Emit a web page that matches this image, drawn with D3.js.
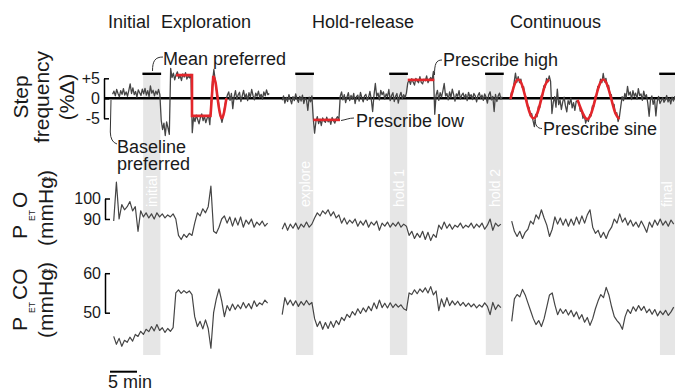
<!DOCTYPE html>
<html>
<head>
<meta charset="utf-8">
<script src="https://cdnjs.cloudflare.com/ajax/libs/d3/7.8.5/d3.min.js"></script>
<style>
  body { margin: 0; background: #fff; }
  svg { display: block; font-family: "Liberation Sans", Arial, Helvetica, sans-serif; }
</style>
</head>
<body>
<svg id="fig" width="675" height="391"></svg>
<script>
// ---- data (time in minutes, step frequency in %, gases in mmHg) ----
var phases = ["Initial", "Exploration", "Hold-release", "Continuous"];
var bandNames = ["initial", "explore", "hold 1", "hold 2", "final"];
var bandStarts = [5.95, 34.25, 51.65, 69.4, 101.65];
var bandLen = 3.2;

var sfTicks = [5, 0, -5], sfTickLabels = ["+5", "0", "-5"];
var o2Ticks = [100, 90], co2Ticks = [60, 50];

// step frequency, sampled every 0.25 min
var sfStep = 0.25;
var sfStarts = [0.3, 31.7, 73.9];
var sf1 = [1.0, 1.8, 0.6, 2.2, 1.2, 0.4, 1.9, 1.0, 2.4, 0.8, 1.6, 0.5, 2.0, 3.6, 1.2, 2.6, 0.9, 1.7, 0.3, 2.1, 1.4, 0.7, 2.3,
  1.1, 2.5, 0.8, 1.9, 0.4, 3.1, 1.3, 2.0, 0.6, 1.8, 1.0, 2.2, 0.9,
  -5.5, -7.8, -6.2, -9.3, -5.9, -7.4, -9.0,
  7.5, 5.2, 6.3, 4.6, 5.9, 6.6, 5.0, 5.7, 4.4, 6.1, 5.3, 6.4, 4.8, 5.6, 5.1, 6.0,
  -8.6, -4.6, -5.8, -4.2, -5.3, -6.4, -4.8, -3.9, -5.6, -4.5, -6.1, -5.0, -4.3, -6.6,
  -1.0, 4.2, 7.2, 4.5, 1.8, 0.2, -2.8, -4.6, -6.0, -4.4, -2.2, -0.4,
  0.8, 1.6, -0.5, 1.2, -2.6, 0.4, 1.9, -0.3, 0.9, 1.5, -0.8, 0.6, 2.0, 0.1, 1.1, -0.6, 1.4, 0.3, 2.2, 0.7, -0.4, 1.3, 0.5, 1.8, 0.2, 1.0, -0.2, 1.6, 0.6, 2.1, 0.9, 1.2];
var sf2 = [-0.5, 0.6, -1.2, 0.2, -0.8, 0.9, -0.3, -1.4, 0.4, -0.6, 1.1, -0.2, -1.0, 0.5, -0.7, 0.8, -1.3, 0.1, -0.4, -3.0, 0.3, -0.9, 0.6,
  -5.0, -8.7, -5.8, -4.6, -6.3, -5.2, -6.8, -4.9, -5.7, -6.0, -4.7, -5.9, -5.3, -6.5, -4.8, -5.6, -6.2, -5.1, -4.6, -5.4,
  0.5, 1.6, -0.4, 0.9, -1.1, 0.3, 1.4, -0.6, 0.7, -0.2, 1.2, -1.3, 0.4, 0.8, -0.7, 1.5, 0.1, -0.9, 0.6, 1.0,
  -0.5, 0.3, 1.7, -0.3, -3.3, 0.8, 3.7, 0.5, 1.3, -0.4, 2.0, 0.9, 1.6, -0.2, 1.1, 0.4, 2.2, -0.6, 0.7, 1.4,
  -0.8, 0.5, 1.2, -1.2, 0.6, 1.5, -0.1, 0.9, 0.2, 1.3,
  3.8, 4.6, 3.5, 4.9, 4.1, 3.3, 5.0, 4.3, 3.9, 5.4, 4.0, 3.6, 4.8, 4.4, 5.6, 3.9, 4.7, 5.2, 4.5, 6.7,
  -4.0,
  0.8, 2.0, -0.5, 1.4, 0.3, 1.8, 3.7, 0.6, 1.2, -0.4, 1.6, 0.2, 2.3, 0.9, -0.7, 1.1, 0.5, 1.9, -0.2, 0.8,
  1.3, 0.1, 1.0, -0.6, 1.5, 0.4, 0.9, -0.3, 1.2, 0.6, -0.9, 0.7, 1.4, 0.0, 0.8, -0.5, 1.1, 0.3, -1.2, 0.9,
  1.6, -0.4, 0.5, -3.3, 1.0, -0.8, 0.6, 1.3, -0.2, 0.4];
var sf3 = [-0.3, 1.5, 1.6, 4.0, 6.3, 4.0, 5.4, 3.9, 4.8, 2.7, 2.9, 0.4, 0.3, -2.3, -2.2, -4.4, -3.8, -5.6, -7.1, -4.0, -4.6, -2.0, -2.3, 0.6, 0.6, 3.1, 2.8, 5.0, 4.1, 5.6, 4.2,
  -3.8, -1.0, 0.4, -2.2, 2.3, -1.6, -0.4, -2.8, -0.9, 0.3, -1.9, -3.4, -0.6, -1.5, 0.1, -2.4, -1.1, -3.0, -0.7,
  -0.8, -1.1, -3.2, -3.0, -5.0, -4.3, -6.2, -5.0, -5.8, -4.1, -4.4, -1.9, -2.0, 0.5, 0.6, 3.0, 2.8, 4.8, 3.9, 6.2, 4.1, 5.0, 2.9, 3.2, 0.8, 0.9, -1.6, -1.5, -3.9, -3.6, -5.8, -4.6,
  -2.0, 0.4, -0.6, 1.2, 0.1, 3.0, 0.8, 1.6, -0.3, 1.9, 0.5, 1.3, -0.2, 2.4, 0.7, 1.1, -0.5, 1.8, 0.3, 0.9,
  -1.2, -4.5, -0.4, 0.6, -1.5, -0.2, -4.4, -0.8, 0.5, -1.3, -0.6, 0.2, -1.0, -0.4, 0.7, -0.9, 0.0, -1.4, 0.3, -0.7, 0.5];

// prescribed step frequency (red), [min, %]
var presSteps = [[12.04, 5.8], [15.0, 5.8], [15.0, -4.4], [18.43, -4.4], [18.94, 5.6]];
var presSineA = [[18.94, 5.6], [19.35, 4.0], [19.74, 0], [20.13, -3.5], [20.52, -5.0], [20.94, -3.5], [21.37, 0]];
var presLow = [[37.46, -5.4], [42.41, -5.4]];
var presHigh = [[54.94, 4.6], [59.87, 4.6]];
var presSineB = [[73.98, -0.2], [74.69, 3.3], [75.41, 4.7], [76.12, 3.3], [76.83, -0.2], [77.54, -3.6], [78.26, -5.0], [78.97, -3.6], [79.68, -0.2], [80.39, 3.3], [81.11, 4.7]];
var presSineC = [[86.4, -0.4], [87.35, -3.7], [88.2, -5.2], [88.94, -3.7], [89.68, -0.2], [90.42, 3.3], [91.16, 4.7], [91.9, 3.3], [92.65, -0.2], [93.39, -3.7], [94.13, -5.2]];

// end-tidal gases, sampled every 0.5 min
var gasStep = 0.5;
var gasStarts = [0.5, 31.7, 74.2];
var o2a = [89, 108, 90, 97, 94.5, 96, 98.5, 94, 96, 84, 94, 91, 93, 90.5, 92.5, 90, 93, 91, 92.5, 90.5, 92, 91, 92.5, 90,
  82, 80, 82.5, 81, 83, 82, 88, 93, 91.5, 95, 93, 96, 106, 84, 83, 86, 90, 91.5, 88, 91, 86.5, 90.5, 87, 91, 86, 89.5,
  87.5, 90, 86, 88.5, 87, 89, 86.5, 88];
var o2b = [85, 88, 84.5, 87.5, 85.5, 88, 85, 87.5, 86, 88.5, 86, 87.5, 90.5, 93, 91.5, 94, 92.5, 94.5, 91.5, 93.5, 90.5, 92,
  88, 90.5, 87.5, 89.5, 88, 90, 86.5, 89, 87, 89.5, 86, 88.5, 87, 89, 84.5, 88, 86.5, 88.5, 86, 88, 86.5, 88.5, 86, 87.5,
  86.5, 82, 84, 80.5, 83, 81, 84, 80, 83.5, 79.5, 82.5, 81, 87, 85, 88.5, 85.5, 87.5, 85, 87, 86, 88, 85.5, 87, 86, 88,
  85.5, 87.5, 86, 88, 85, 87, 90, 84.5, 88, 86.5, 87.5];
var o2c = [89, 84, 81.5, 84, 80.5, 83.5, 85, 89, 87.5, 92, 90, 94.5, 90.5, 87, 81.5, 85, 91, 87.5, 90.5, 87, 90, 86.5, 90,
  87, 91, 87.5, 91.5, 88, 92, 94.5, 86, 83, 84.5, 81, 83.5, 80.5, 84, 86, 90, 88, 92.5, 88.5, 90.5, 87, 89.5, 86.5, 88.5,
  86, 89, 86.5, 83.5, 88.5, 86, 89.5, 87, 90, 87, 89, 86.5, 89.5, 87.5];
var co2a = [44, 42, 43.5, 41.5, 43, 42.5, 43.8, 42.8, 44.5, 44, 45.3, 44.5, 45.8, 45.2, 46.5, 45.4, 47, 45.5, 46.2, 45, 46,
  45.3, 46.2, 55, 55.8, 54.9, 55.6, 55, 55.5, 54.6, 49, 46.5, 47.8, 45.9, 48.2, 46, 41, 50, 53.5, 56, 53, 49, 51.8, 50.5,
  52.2, 50.8, 52, 51, 52.6, 51.2, 52.3, 51, 53, 51.6, 52.5, 52, 53.2, 52.4];
var co2b = [49.5, 53.8, 52, 53.2, 51.8, 53, 51.6, 52.8, 51.9, 53.1, 52, 52.6, 48.5, 46.5, 47.8, 45.8, 47.5, 46, 47.8, 46.3,
  48, 47, 48.8, 48, 49.6, 48.8, 50.3, 49.4, 51, 49.8, 51.2, 50.2, 51.6, 50.5, 52.5, 51, 53.2, 51.3, 52.4, 51.2, 52.5, 51.3,
  52.2, 51.4, 52, 51, 50.6, 55, 54.6, 55.8, 54.8, 56, 55.2, 56.3, 55, 56.6, 54.5, 55.5, 50.5, 53.5, 51.5, 53.8, 51.8, 53,
  52, 52.9, 51.8, 52.6, 51.6, 52.4, 51.5, 52.2, 51.2, 52, 51.4, 52.5, 51.6, 49.5, 52.6, 50.8, 52, 51.3];
var co2c = [47.8, 53.5, 54.6, 54, 55.9, 54.5, 52.5, 50.5, 48.5, 47, 48, 46.5, 48.5, 51.5, 54.5, 55, 52, 49.5, 51, 49.8,
  50.8, 49.4, 50.6, 49, 50.2, 48.4, 49.5, 47.6, 48.8, 46.8, 48.5, 51, 53, 54.6, 53.8, 56.4, 54.5, 51.5, 49, 48, 47.2, 45.8,
  49, 50.8, 49.8, 51.5, 50.4, 51.8, 50.6, 51.6, 50, 50.9, 49.6, 50.8, 49.2, 50.4, 49.5, 50.6, 49.3, 50.2, 51.4];

// ---- drawing ----
var svg = d3.select("#fig");
var ink = "#1a1a1a", trace = "#454545", red = "#e3262b", band = "#e6e6e6";

var x = d3.scaleLinear().domain([0, 104.44]).range([111, 675]);
var ySf = d3.scaleLinear().domain([-5, 5]).range([118.3, 78.3]);
var yO2 = d3.scaleLinear().domain([90, 100]).range([219, 198.5]);
var yCo2 = d3.scaleLinear().domain([50, 60]).range([312.7, 273.2]);

function series(start, step, vals) {
  return vals.map(function(v, i) { return [start + i * step, v]; });
}

// grey comparison bands with black caps
var bands = svg.append("g");
bandStarts.forEach(function(s, i) {
  var x0 = x(s), x1 = x(s + bandLen);
  bands.append("rect").attr("x", x0).attr("y", 75).attr("width", x1 - x0).attr("height", 280).attr("fill", band);
  bands.append("rect").attr("x", x0 - 0.7).attr("y", 72.6).attr("width", x1 - x0 + 1.4).attr("height", 2.4).attr("fill", "#000");
  bands.append("text")
    .attr("transform", "translate(" + Math.min((x0 + x1) / 2 + 5.5, 672) + ",207) rotate(-90)")
    .attr("font-size", 14).attr("fill", "#fff")
    .text(bandNames[i]);
});

// phase titles
var titleX = [108, 161, 312, 510];
svg.append("g").selectAll("text").data(phases).enter().append("text")
  .attr("x", function(d, i) { return titleX[i]; }).attr("y", 28)
  .attr("font-size", 18).attr("fill", ink)
  .text(function(d) { return d; });

// zero line
svg.append("line").attr("x1", 104).attr("x2", 675).attr("y1", ySf(0)).attr("y2", ySf(0))
  .attr("stroke", "#000").attr("stroke-width", 2.6);

var lineSf = d3.line().x(function(d) { return x(d[0]); }).y(function(d) { return ySf(d[1]); });
var lineO2 = d3.line().x(function(d) { return x(d[0]); }).y(function(d) { return yO2(d[1]); });
var lineCo2 = d3.line().x(function(d) { return x(d[0]); }).y(function(d) { return yCo2(d[1]); });

[sf1, sf2, sf3].forEach(function(v, i) {
  svg.append("path").attr("d", lineSf(series(sfStarts[i], sfStep, v)))
    .attr("fill", "none").attr("stroke", trace).attr("stroke-width", 1.3).attr("stroke-linejoin", "round");
});
[o2a, o2b, o2c].forEach(function(v, i) {
  svg.append("path").attr("d", lineO2(series(gasStarts[i], gasStep, v)))
    .attr("fill", "none").attr("stroke", trace).attr("stroke-width", 1.2).attr("stroke-linejoin", "round");
});
[co2a, co2b, co2c].forEach(function(v, i) {
  svg.append("path").attr("d", lineCo2(series(gasStarts[i], gasStep, v)))
    .attr("fill", "none").attr("stroke", trace).attr("stroke-width", 1.2).attr("stroke-linejoin", "round");
});

// prescribed targets
var sineLine = d3.line().curve(d3.curveNatural).x(function(d) { return x(d[0]); }).y(function(d) { return ySf(d[1]); });
[presSteps, presLow, presHigh].forEach(function(p) {
  svg.append("path").attr("d", lineSf(p)).attr("fill", "none").attr("stroke", red).attr("stroke-width", 2.6);
});
[presSineA, presSineB, presSineC].forEach(function(p) {
  svg.append("path").attr("d", sineLine(p)).attr("fill", "none").attr("stroke", red).attr("stroke-width", 2.6);
});

// bracket axes
function bracket(scale, ticks, labels, xPos) {
  var ax = d3.axisLeft(scale).tickValues(ticks).tickSizeInner(-5).tickSizeOuter(0).tickPadding(4)
    .tickFormat(function(d, i) { return labels[i]; });
  var g = svg.append("g").attr("transform", "translate(" + xPos + ",0)").call(ax);
  g.select(".domain").attr("stroke", "#000").attr("stroke-width", 1.5);
  g.selectAll(".tick line").attr("stroke", "#000").attr("stroke-width", 1.5);
  g.selectAll(".tick text").attr("font-size", 16).attr("fill", ink)
    .attr("font-family", "Liberation Sans, Arial, sans-serif");
}
bracket(ySf, sfTicks, sfTickLabels, 104);
bracket(yO2, o2Ticks, o2Ticks.map(String), 105);
bracket(yCo2, co2Ticks, co2Ticks.map(String), 105);

// y labels
function vtext(str, bx, by, size, anchor) {
  svg.append("text").attr("transform", "translate(" + bx + "," + by + ") rotate(-90)")
    .attr("font-size", size).attr("fill", ink).attr("text-anchor", anchor || "middle").text(str);
}
vtext("Step", 28, 97, 21);
vtext("frequency", 49, 97, 21);
vtext("(%\u0394)", 74, 97, 21);

function gasLabel(gas, dy, subY) {
  vtext("P", 27, 239 + dy, 21, "start");
  vtext("ET", 35, 221 + dy, 8.5, "start");
  vtext(gas, 27, 208 + dy, 21, "start");
  vtext("2", 50, subY, 8.5, "start");
  vtext("(mmHg)", 53, 208 + dy, 21);
}
gasLabel("O", 0, 181);
gasLabel("CO", 92, 273);

// annotations
var notes = [
  ["Mean preferred", 163, 65], ["Baseline", 117, 153], ["preferred", 117, 170],
  ["Prescribe low", 356, 127], ["Prescribe high", 443, 66], ["Prescribe sine", 543, 135]
];
svg.append("g").selectAll("text").data(notes).enter().append("text")
  .attr("x", function(d) { return d[1]; }).attr("y", function(d) { return d[2]; })
  .attr("font-size", 18).attr("fill", ink).text(function(d) { return d[0]; });

var leaders = [
  "M163,57 C155,57 152.5,61 152.5,71",
  "M111,100 L110.3,132 Q110.5,142 117,144",
  "M341,120.5 C345,120 349,118 354,118",
  "M442,60 C436,60 434.5,64 434.5,75",
  "M542,128.5 C537,128.5 535.5,125 535,120"
];
svg.append("g").selectAll("path").data(leaders).enter().append("path")
  .attr("d", function(d) { return d; }).attr("fill", "none").attr("stroke", "#333").attr("stroke-width", 1);

// 5 min scale bar
svg.append("line").attr("x1", x(0) - 1).attr("x2", x(5) - 1).attr("y1", 371.7).attr("y2", 371.7)
  .attr("stroke", "#000").attr("stroke-width", 2);
svg.append("text").attr("x", 108).attr("y", 387.5).attr("font-size", 18).attr("fill", ink).text("5 min");
</script>
</body>
</html>
